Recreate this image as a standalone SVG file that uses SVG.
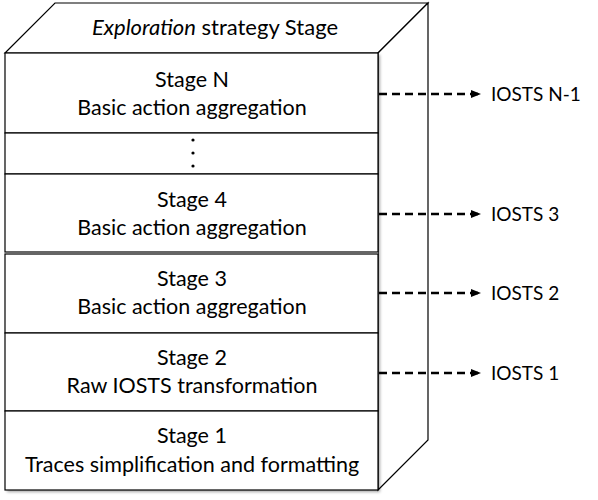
<svg xmlns="http://www.w3.org/2000/svg" width="598" height="500" viewBox="0 0 598 500">
<defs>
<filter id="sh" x="-5%" y="-5%" width="115%" height="115%">
<feDropShadow dx="2" dy="2" stdDeviation="1.5" flood-color="#000" flood-opacity="0.35"/>
</filter>
<marker id="ah" viewBox="0 0 10 10" refX="9" refY="5" markerWidth="4" markerHeight="4" orient="auto" markerUnits="strokeWidth">
<path d="M0,1 L10,5 L0,9 z" fill="#000"/>
</marker>
<style>
.face{fill:#fff;stroke:#000;stroke-width:1.2}
.t{font-family:Lato,"Open Sans",sans-serif;font-size:21.5px;fill:#000;text-anchor:middle}
.lbl{font-family:Lato,"Open Sans",sans-serif;font-size:19px;fill:#000}
.arr{stroke:#000;stroke-width:2.5;stroke-dasharray:8 5;fill:none;marker-end:url(#ah)}
</style>
</defs>
<g id="cube">
<polygon class="face" points="5,53 55,3 428,3 378,53"/>
<polygon class="face" points="378,53 428,3 428,440 378,490"/>
<text class="t" x="215" y="35" style="font-size:22px"><tspan font-style="italic">Exploration</tspan> strategy Stage</text>
</g>
<g id="front" filter="url(#sh)">
<rect x="5" y="53" width="373" height="437" fill="#fff"/>
</g>
<g id="stageN">
<rect class="face" x="5" y="53" width="373" height="80"/>
<text class="t" x="192" y="87">Stage N</text>
<text class="t" x="192" y="115">Basic action aggregation</text>
</g>
<g id="dots">
<rect class="face" x="5" y="133" width="373" height="41"/>
<circle cx="193" cy="140" r="1.6"/>
<circle cx="193" cy="153" r="1.6"/>
<circle cx="193" cy="166" r="1.6"/>
</g>
<g id="stage4">
<rect class="face" x="5" y="174" width="373" height="78"/>
<text class="t" x="192" y="207">Stage 4</text>
<text class="t" x="192" y="235">Basic action aggregation</text>
</g>
<g id="stage3">
<rect class="face" x="5" y="254" width="373" height="79"/>
<text class="t" x="192" y="286">Stage 3</text>
<text class="t" x="192" y="314">Basic action aggregation</text>
</g>
<g id="stage2">
<rect class="face" x="5" y="333" width="373" height="78"/>
<text class="t" x="192" y="365">Stage 2</text>
<text class="t" x="192" y="393">Raw IOSTS transformation</text>
</g>
<g id="stage1">
<rect class="face" x="5" y="411" width="373" height="79"/>
<text class="t" x="192" y="443">Stage 1</text>
<text class="t" x="192" y="472">Traces simplification and formatting</text>
</g>
<g id="connectors">
<line class="arr" x1="379" y1="94" x2="480" y2="94"/>
<line class="arr" x1="379" y1="214" x2="480" y2="214"/>
<line class="arr" x1="379" y1="293" x2="480" y2="293"/>
<line class="arr" x1="379" y1="373" x2="480" y2="373"/>
</g>
<g id="labels">
<text class="lbl" x="491" y="101">IOSTS N-1</text>
<text class="lbl" x="491" y="221">IOSTS 3</text>
<text class="lbl" x="491" y="300">IOSTS 2</text>
<text class="lbl" x="491" y="380">IOSTS 1</text>
</g>
</svg>
